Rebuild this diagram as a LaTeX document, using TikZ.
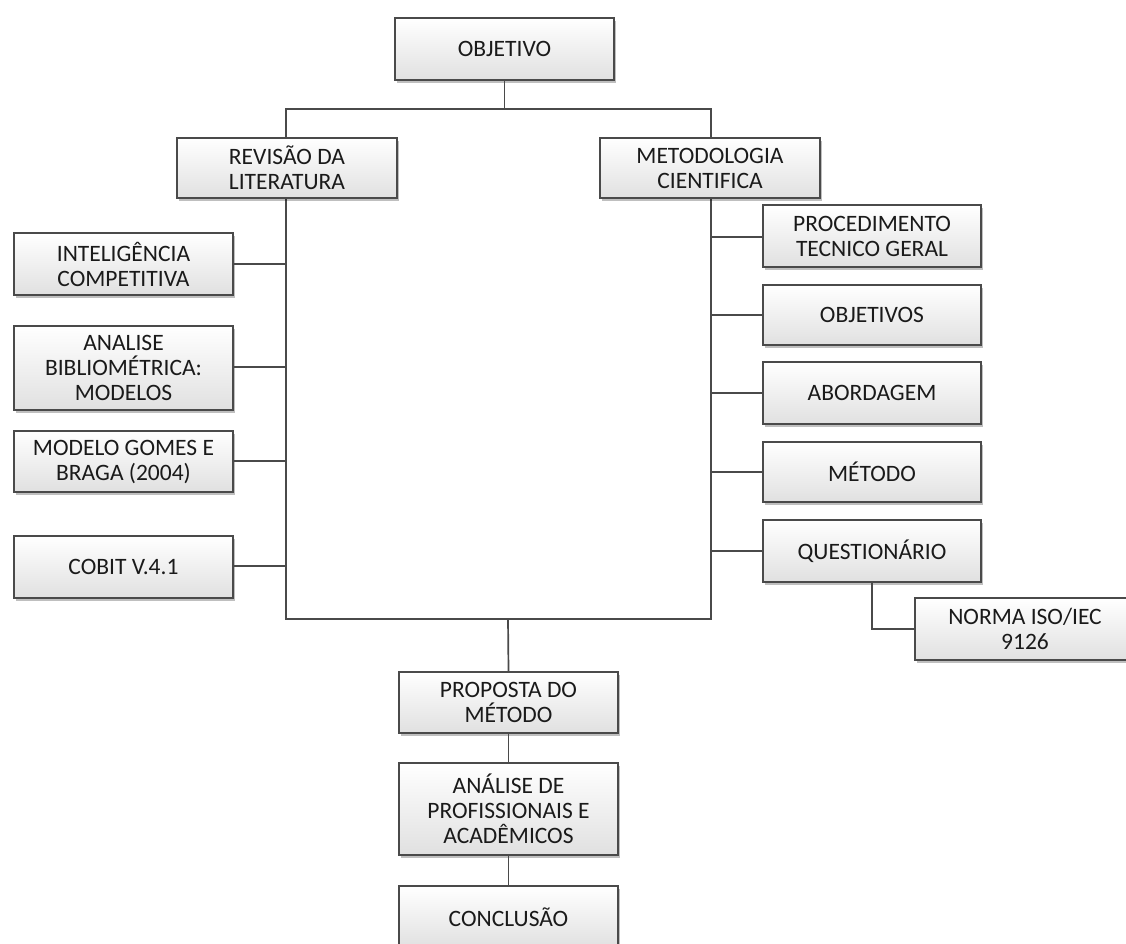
\documentclass[tikz,border=0pt]{standalone}
\usepackage{fontspec}
\setmainfont{Carlito}
\usetikzlibrary{shadows}
\definecolor{edge}{HTML}{4A4A4A}
\definecolor{ink}{HTML}{1A1A1A}
\tikzset{
  box/.style={draw=edge, line width=1.7pt, top color=white, bottom color=black!12,
    minimum width=219pt, minimum height=62pt, inner sep=1pt, align=center,
    text=ink, font=\fontsize{23.5}{25}\selectfont,
    drop shadow={shadow xshift=2pt, shadow yshift=-2.5pt, opacity=0.25, fill=black}},
  wire/.style={draw=edge, line width=1.7pt}
}
\begin{document}
\begin{tikzpicture}[x=1pt, y=-1pt]
\useasboundingbox (0,0) rectangle (1126,943);
\fill[white] (0,0) rectangle (1126,943);

% frame joining the two branches
\coordinate (tl) at (286,109);
\coordinate (tr) at (711,109);
\coordinate (bl) at (286,619);
\coordinate (br) at (711,619);
\draw[wire] (tl) -- (tr) -- (br) -- (bl) -- cycle;

% side branches
\coordinate (lt) at (286,264);
\coordinate (la) at (286,367);
\coordinate (lm) at (286,461);
\coordinate (lc) at (286,566);
\coordinate (rp) at (711,237);
\coordinate (ro) at (711,315);
\coordinate (ra) at (711,393);
\coordinate (rm) at (711,472);
\coordinate (rq) at (711,551);
\coordinate (mid) at (508,619);

% top
\node[box] (obj) at (504.5,49) {OBJETIVO};
\draw[wire] (obj.south) -- (obj.south |- tl);

\node[box, minimum width=220pt, minimum height=60pt] (rev) at (287,168) {REVISÃO DA\\LITERATURA};
\node[box, minimum width=220pt, minimum height=60pt] (met) at (710,168) {METODOLOGIA\\CIENTIFICA};

% left column
\node[box] (int) at (123.5,264) {INTELIGÊNCIA\\COMPETITIVA};
\node[box, minimum height=84pt] (ana) at (123.5,368) {ANALISE\\BIBLIOMÉTRICA:\\MODELOS};
\node[box, minimum height=61pt] (mod) at (123.5,461.5) {MODELO GOMES E\\BRAGA (2004)};
\node[box] (cob) at (123.5,567) {COBIT V.4.1};
\draw[wire] (int.east |- lt) -- (lt);
\draw[wire] (ana.east |- la) -- (la);
\draw[wire] (mod.east |- lm) -- (lm);
\draw[wire] (cob.east |- lc) -- (lc);

% right column
\node[box, minimum width=218pt] (proc) at (872,236) {PROCEDIMENTO\\TECNICO GERAL};
\node[box, minimum width=218pt, minimum height=60pt] (objs) at (872,315) {OBJETIVOS};
\node[box, minimum width=218pt] (abo) at (872,393) {ABORDAGEM};
\node[box, minimum width=218pt, minimum height=60pt] (mtd) at (872,472) {MÉTODO};
\node[box, minimum width=218pt, minimum height=62pt] (que) at (872,551) {QUESTIONÁRIO};
\node[box, minimum width=220pt] (iso) at (1025,629) {NORMA ISO/IEC\\9126};
\draw[wire] (rp) -- (proc.west |- rp);
\draw[wire] (ro) -- (objs.west |- ro);
\draw[wire] (ra) -- (abo.west |- ra);
\draw[wire] (rm) -- (mtd.west |- rm);
\draw[wire] (rq) -- (que.west |- rq);
\draw[wire] (que.south) |- (iso.west);

% bottom chain
\node[box, minimum height=61pt] (prop) at (508.5,702.5) {PROPOSTA DO\\MÉTODO};
\node[box, minimum height=92pt] (anal) at (508.5,809) {ANÁLISE DE\\PROFISSIONAIS E\\ACADÊMICOS};
\node[box] (conc) at (508.5,917) {CONCLUSÃO};
\draw[wire] (mid) -- (prop.north);
\draw[wire] (prop.south) -- (anal.north);
\draw[wire] (anal.south) -- (conc.north);
\end{tikzpicture}
\end{document}
